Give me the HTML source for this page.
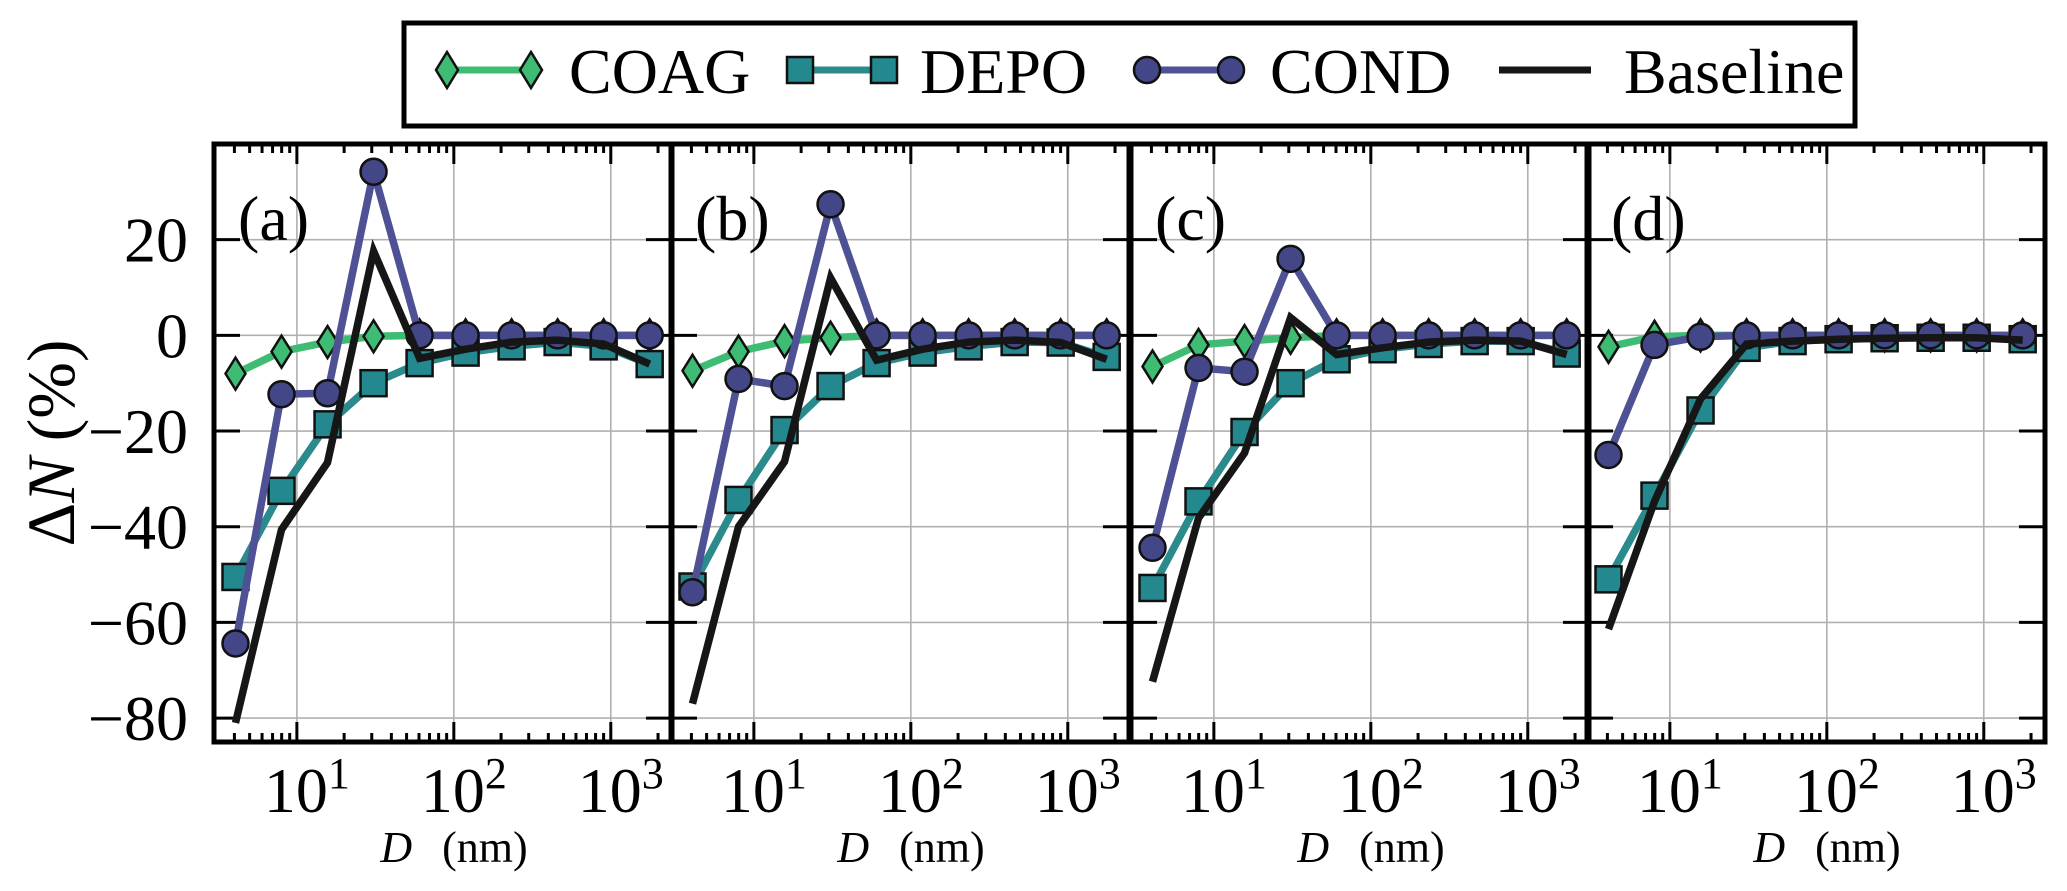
<!DOCTYPE html>
<html><head><meta charset="utf-8"><style>
html,body{margin:0;padding:0;background:#fff;}
svg{display:block;font-family:"Liberation Serif",serif;}
</style></head><body>
<svg id="c" width="2067" height="891" viewBox="0 0 2067 891" xmlns="http://www.w3.org/2000/svg"></svg>
<script>
const panelLabels = ["(a)","(b)","(c)","(d)"];
const diamLog0 = 0.609, diamLogStep = 0.2932; // log10 of first diameter (nm) and per-bin step
const diameters = [4.06,7.98,15.7,30.8,60.5,118.9,233.6,459,902,1772];
const coag = [
 [-8,-3.4,-1.4,-0.2,0,0,0,0,0,0],
 [-7.4,-3.4,-1.2,-0.5,0,0,0,0,0,0],
 [-6.5,-2,-1.2,-0.5,0,0,0,0,0,0],
 [-2.4,-0.3,0,0,0,0,0,0,0,0]];
const depo = [
 [-50.5,-32.5,-18.6,-10,-5.8,-3.6,-2.3,-1.4,-2.3,-6],
 [-52.5,-34.4,-19.8,-10.6,-5.8,-3.6,-2.3,-1.4,-1.5,-4.5],
 [-52.8,-34.7,-20.2,-10,-5,-2.9,-1.8,-1.2,-1.2,-3.8],
 [-51,-33.5,-15.7,-2.6,-1.2,-0.8,-0.6,-0.5,-0.5,-0.8]];
const cond = [
 [-64.4,-12.3,-12.1,34.2,0,0,0,0,0,0],
 [-53.7,-9.1,-10.6,27.4,0,0,0,0,0,0],
 [-44.4,-6.8,-7.6,16,0,0,0,0,0,0],
 [-25,-2,-0.3,0,0,0,0,0,0,0]];
const baseline = [
 [-81,-40.6,-26.6,17.6,-4.8,-2.9,-1.4,-1,-1.8,-6],
 [-77,-40,-26.4,12,-5.2,-2.9,-1.4,-1,-1.5,-5],
 [-72.4,-38.2,-24.6,3.7,-4,-2.6,-1.4,-1,-1.2,-4],
 [-61.4,-34.7,-13.3,-1.8,-1.2,-0.8,-0.6,-0.5,-0.5,-1]];
const yTicks = [-80,-60,-40,-20,0,20];
const yTickLabels = ["\u221280","\u221260","\u221240","\u221220","0","20"];
const xDecades = [1,2,3];

const NS="http://www.w3.org/2000/svg";
const svg=document.getElementById('c');
function el(tag,attrs,parent){const e=document.createElementNS(NS,tag);for(const k in attrs)e.setAttribute(k,attrs[k]);(parent||svg).appendChild(e);return e;}

const panelLefts=[214,671,1131,1587], pw=458, plotTop=144, plotBot=742;
const yMin=-85,yMax=40, xLogMin=0.472, xLogMax=3.39;
function yS(v){return plotBot-(v-yMin)/(yMax-yMin)*(plotBot-plotTop);}
function xS(p,lg){return panelLefts[p]+(lg-xLogMin)/(xLogMax-xLogMin)*pw;}

const C={coag:"#3fbc73",depo:"#2a8a8c",depoM:"#23898e",cond:"#4e5194",condM:"#434687",base:"#161616"};

for(let p=0;p<4;p++){
  const g=el('g',{});
  
  
  const L=panelLefts[p],R=L+pw;
  yTicks.forEach(v=>{const l=el('line',{x1:L,x2:R,y1:yS(v),y2:yS(v),stroke:"#b0b0b0","stroke-width":1.6},g);});
  xDecades.forEach(d=>{const l=el('line',{x1:xS(p,d),x2:xS(p,d),y1:plotTop,y2:plotBot,stroke:"#b0b0b0","stroke-width":1.6},g);});
  for(let d=0;d<=3;d++){for(let m=1;m<10;m++){const lg=d+Math.log10(m);if(lg<xLogMin||lg>xLogMax)continue;const len=m===1?20:9;const x=xS(p,lg);
    el('line',{x1:x,x2:x,y1:plotTop,y2:plotTop+len,stroke:"#000","stroke-width":3},g);
    el('line',{x1:x,x2:x,y1:plotBot,y2:plotBot-len,stroke:"#000","stroke-width":3},g);}}
  yTicks.forEach(v=>{el('line',{x1:L,x2:L+26,y1:yS(v),y2:yS(v),stroke:"#000","stroke-width":3},g);el('line',{x1:R,x2:R-26,y1:yS(v),y2:yS(v),stroke:"#000","stroke-width":3},g);});
  function pts(arr){return arr.map((v,i)=>xS(p,diamLog0+i*diamLogStep).toFixed(1)+","+yS(v).toFixed(1)).join(" ");}
  function series(arr,color,mcolor,marker,name){
    const sg=el('g',{},g);
    
    
    el('polyline',{points:pts(arr),fill:"none",stroke:color,"stroke-width":7.5,"stroke-linejoin":"miter"},sg);
    if(!marker)return;
    arr.forEach((v,i)=>{const x=xS(p,diamLog0+i*diamLogStep),y=yS(v);let m;
      if(marker==='d')m=el('polygon',{points:`${x},${y-16} ${x+10},${y} ${x},${y+16} ${x-10},${y}`,fill:mcolor,stroke:"#111","stroke-width":2.5},sg);
      else if(marker==='s')m=el('rect',{x:x-13,y:y-13,width:26,height:26,fill:mcolor,stroke:"#111","stroke-width":2.5},sg);
      else m=el('circle',{cx:x,cy:y,r:13,fill:mcolor,stroke:"#111","stroke-width":2.5},sg);
      
      });
  }
  series(coag[p],C.coag,C.coag,'d','coag');
  series(depo[p],C.depo,C.depoM,'s','depo');
  series(cond[p],C.cond,C.condM,'o','cond');
  series(baseline[p],C.base,null,null,'baseline');
  el('rect',{x:L,y:plotTop,width:pw,height:plotBot-plotTop,fill:"none",stroke:"#000","stroke-width":5},g);
  const pl=el('text',{x:L+24,y:240,"font-size":64},g);pl.textContent=panelLabels[p];
  
  xDecades.forEach(d=>{const t=el('text',{x:xS(p,d)+10,y:812,"font-size":64,"text-anchor":"middle"},g);
    
    t.appendChild(document.createTextNode("10"));const s=el('tspan',{dy:-24,"font-size":44},t);s.textContent=d;});
  const xt=el('text',{x:L+240,y:862,"font-size":44,"text-anchor":"middle"},g);
  
  const it=el('tspan',{"font-style":"italic"},xt);it.textContent="D";
  const nt=el('tspan',{dx:30},xt);nt.textContent="(nm)";
}
yTicks.forEach((v,i)=>{const t=el('text',{x:188,y:yS(v)+22,"font-size":64,"text-anchor":"end"});t.textContent=yTickLabels[i];
  });
const yt=el('text',{x:0,y:0,"font-size":68,"text-anchor":"middle",transform:"translate(74,443) rotate(-90)"});

yt.appendChild(document.createTextNode("\u0394"));const yi=el('tspan',{"font-style":"italic"},yt);yi.textContent="N";
const yp=el('tspan',{dx:16},yt);yp.textContent="(%)";

const lg=el('g',{});

el('rect',{x:404,y:23,width:1451,height:103,fill:"#fff",stroke:"#000","stroke-width":5},lg);
const entries=[["COAG",447,531,569,C.coag,C.coag,'d'],["DEPO",800,884,920,C.depo,C.depoM,'s'],["COND",1147,1231,1270,C.cond,C.condM,'o'],["Baseline",1499,1591,1624,C.base,null,null]];
entries.forEach(e=>{const eg=el('g',{},lg);
  
  const y=70;el('line',{x1:e[1],x2:e[2],y1:y,y2:y,stroke:e[4],"stroke-width":7},eg);
  [e[1],e[2]].forEach(x=>{
    if(e[6]==='d')el('polygon',{points:`${x},${y-18} ${x+11},${y} ${x},${y+18} ${x-11},${y}`,fill:e[5],stroke:"#111","stroke-width":2.5},eg);
    else if(e[6]==='s')el('rect',{x:x-13,y:y-13,width:26,height:26,fill:e[5],stroke:"#111","stroke-width":2.5},eg);
    else if(e[6]==='o')el('circle',{cx:x,cy:y,r:13,fill:e[5],stroke:"#111","stroke-width":2.5},eg);});
  const t=el('text',{x:e[3],y:93,"font-size":64},eg);t.textContent=e[0];});
</script>
</body></html>
